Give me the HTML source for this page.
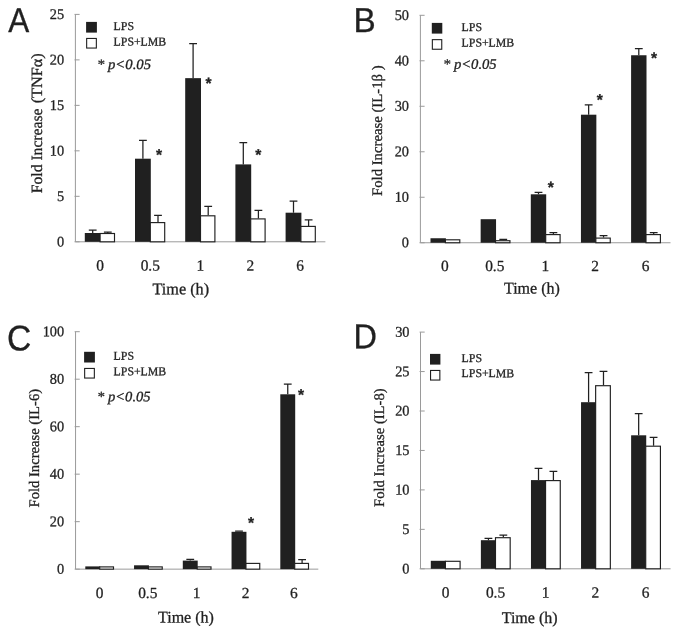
<!DOCTYPE html>
<html lang="en">
<head>
<meta charset="utf-8">
<title>Fold increase of cytokines after LPS and LPS+LMB treatment</title>
<style>
html,body{margin:0;padding:0;background:#fff;}
body{width:679px;height:635px;overflow:hidden;}
svg{display:block;filter:grayscale(1);}
text{text-rendering:geometricPrecision;stroke:#231f20;stroke-width:0.3px;stroke-linejoin:round;}
</style>
</head>
<body>
<svg width="679" height="635" viewBox="0 0 679 635">
<rect width="679" height="635" fill="#fff"/>
<path d="M75.4 14.4V241.8H325.4" fill="none" stroke="#9a9a9a" stroke-width="1"/>
<line x1="74.50" y1="14.40" x2="79.60" y2="14.40" stroke="#9a9a9a" stroke-width="1"/>
<text transform="translate(64.20 19.00) rotate(0.05) scale(0.97 1)" text-anchor="end" font-family="'Liberation Serif', serif" font-size="14.8" fill="#231f20">25</text>
<line x1="74.50" y1="59.88" x2="79.60" y2="59.88" stroke="#9a9a9a" stroke-width="1"/>
<text transform="translate(64.20 64.48) rotate(0.05) scale(0.97 1)" text-anchor="end" font-family="'Liberation Serif', serif" font-size="14.8" fill="#231f20">20</text>
<line x1="74.50" y1="105.36" x2="79.60" y2="105.36" stroke="#9a9a9a" stroke-width="1"/>
<text transform="translate(64.20 109.96) rotate(0.05) scale(0.97 1)" text-anchor="end" font-family="'Liberation Serif', serif" font-size="14.8" fill="#231f20">15</text>
<line x1="74.50" y1="150.84" x2="79.60" y2="150.84" stroke="#9a9a9a" stroke-width="1"/>
<text transform="translate(64.20 155.44) rotate(0.05) scale(0.97 1)" text-anchor="end" font-family="'Liberation Serif', serif" font-size="14.8" fill="#231f20">10</text>
<line x1="74.50" y1="196.32" x2="79.60" y2="196.32" stroke="#9a9a9a" stroke-width="1"/>
<text transform="translate(64.20 200.92) rotate(0.05) scale(0.97 1)" text-anchor="end" font-family="'Liberation Serif', serif" font-size="14.8" fill="#231f20">5</text>
<line x1="74.50" y1="241.80" x2="79.60" y2="241.80" stroke="#9a9a9a" stroke-width="1"/>
<text transform="translate(64.20 246.40) rotate(0.05) scale(0.97 1)" text-anchor="end" font-family="'Liberation Serif', serif" font-size="14.8" fill="#231f20">0</text>
<path d="M92.70 233.00V230.10M88.80 230.10H96.60" stroke="#231f20" stroke-width="1.25" fill="none"/>
<path d="M107.80 233.00V232.20M103.90 232.20H111.70" stroke="#231f20" stroke-width="1.25" fill="none"/>
<rect x="84.80" y="233.00" width="15.80" height="8.80" fill="#231f20"/>
<rect x="100.10" y="233.50" width="14.40" height="8.30" fill="#fff" stroke="#231f20" stroke-width="1.15"/>
<text transform="translate(100.00 270.50) rotate(0.05)" text-anchor="middle" font-family="'Liberation Serif', serif" font-size="15.4" fill="#231f20">0</text>
<path d="M142.90 158.70V140.40M139.00 140.40H146.80" stroke="#231f20" stroke-width="1.25" fill="none"/>
<path d="M158.00 222.10V215.30M154.10 215.30H161.90" stroke="#231f20" stroke-width="1.25" fill="none"/>
<rect x="135.00" y="158.70" width="15.80" height="83.10" fill="#231f20"/>
<rect x="150.30" y="222.60" width="14.40" height="19.20" fill="#fff" stroke="#231f20" stroke-width="1.15"/>
<text transform="translate(150.30 270.50) rotate(0.05)" text-anchor="middle" font-family="'Liberation Serif', serif" font-size="15.4" fill="#231f20">0.5</text>
<path d="M193.10 78.15V43.60M189.20 43.60H197.00" stroke="#231f20" stroke-width="1.25" fill="none"/>
<path d="M208.20 215.30V206.30M204.30 206.30H212.10" stroke="#231f20" stroke-width="1.25" fill="none"/>
<rect x="185.20" y="78.15" width="15.80" height="163.65" fill="#231f20"/>
<rect x="200.50" y="215.80" width="14.40" height="26.00" fill="#fff" stroke="#231f20" stroke-width="1.15"/>
<text transform="translate(200.30 270.50) rotate(0.05)" text-anchor="middle" font-family="'Liberation Serif', serif" font-size="15.4" fill="#231f20">1</text>
<path d="M243.30 164.40V142.50M239.40 142.50H247.20" stroke="#231f20" stroke-width="1.25" fill="none"/>
<path d="M258.40 218.40V210.30M254.50 210.30H262.30" stroke="#231f20" stroke-width="1.25" fill="none"/>
<rect x="235.40" y="164.40" width="15.80" height="77.40" fill="#231f20"/>
<rect x="250.70" y="218.90" width="14.40" height="22.90" fill="#fff" stroke="#231f20" stroke-width="1.15"/>
<text transform="translate(250.30 270.50) rotate(0.05)" text-anchor="middle" font-family="'Liberation Serif', serif" font-size="15.4" fill="#231f20">2</text>
<path d="M293.50 212.70V201.20M289.60 201.20H297.40" stroke="#231f20" stroke-width="1.25" fill="none"/>
<path d="M308.60 225.90V219.80M304.70 219.80H312.50" stroke="#231f20" stroke-width="1.25" fill="none"/>
<rect x="285.60" y="212.70" width="15.80" height="29.10" fill="#231f20"/>
<rect x="300.90" y="226.40" width="14.40" height="15.40" fill="#fff" stroke="#231f20" stroke-width="1.15"/>
<text transform="translate(300.00 270.50) rotate(0.05)" text-anchor="middle" font-family="'Liberation Serif', serif" font-size="15.4" fill="#231f20">6</text>
<text transform="translate(152.50 294.30) rotate(0.05)" font-family="'Liberation Serif', serif" font-size="16.3" textLength="56.6" lengthAdjust="spacingAndGlyphs" fill="#231f20">Time (h)</text>
<text transform="translate(41.6 193.2) rotate(-90)" font-family="'Liberation Serif', serif" font-size="15.7" textLength="84.7" lengthAdjust="spacingAndGlyphs" fill="#231f20">Fold Increase</text>
<text transform="translate(41.6 103.3) rotate(-90)" font-family="'Liberation Serif', serif" font-size="15.7" textLength="50.1" lengthAdjust="spacingAndGlyphs" fill="#231f20">(TNFα)</text>
<rect x="86.1" y="21.9" width="10.8" height="10.7" fill="#231f20"/>
<rect x="86.65" y="38.45" width="9.70" height="9.6" fill="#fff" stroke="#231f20" stroke-width="1.1"/>
<text transform="translate(113.60 29.90) rotate(0.05)" font-family="'Liberation Serif', serif" font-size="12" textLength="20.4" lengthAdjust="spacingAndGlyphs" fill="#231f20">LPS</text>
<text transform="translate(113.60 45.40) rotate(0.05)" font-family="'Liberation Serif', serif" font-size="12" textLength="52.6" lengthAdjust="spacingAndGlyphs" fill="#231f20">LPS+LMB</text>
<text transform="translate(97.00 68.90) rotate(0.05)" font-family="'Liberation Serif', serif" font-size="14.4" font-style="italic" textLength="54" lengthAdjust="spacingAndGlyphs" fill="#231f20">* p&lt;0.05</text>
<text transform="translate(159.10 159.90) rotate(0.05)" text-anchor="middle" font-family="'Liberation Sans', sans-serif" font-size="15.6" font-weight="bold" stroke-width="0.15" fill="#231f20">*</text>
<text transform="translate(208.50 88.60) rotate(0.05)" text-anchor="middle" font-family="'Liberation Sans', sans-serif" font-size="15.6" font-weight="bold" stroke-width="0.15" fill="#231f20">*</text>
<text transform="translate(258.20 159.90) rotate(0.05)" text-anchor="middle" font-family="'Liberation Sans', sans-serif" font-size="15.6" font-weight="bold" stroke-width="0.15" fill="#231f20">*</text>
<text transform="translate(8.3 32.1) rotate(0.05) scale(1 1.095)" font-family="'Liberation Sans', sans-serif" font-size="31.5" fill="#231f20">A</text>
<path d="M420.4 15.3V242.75H670.5" fill="none" stroke="#9a9a9a" stroke-width="1"/>
<line x1="419.50" y1="15.30" x2="424.60" y2="15.30" stroke="#9a9a9a" stroke-width="1"/>
<text transform="translate(409.00 19.90) rotate(0.05) scale(0.97 1)" text-anchor="end" font-family="'Liberation Serif', serif" font-size="14.8" fill="#231f20">50</text>
<line x1="419.50" y1="60.79" x2="424.60" y2="60.79" stroke="#9a9a9a" stroke-width="1"/>
<text transform="translate(409.00 65.39) rotate(0.05) scale(0.97 1)" text-anchor="end" font-family="'Liberation Serif', serif" font-size="14.8" fill="#231f20">40</text>
<line x1="419.50" y1="106.28" x2="424.60" y2="106.28" stroke="#9a9a9a" stroke-width="1"/>
<text transform="translate(409.00 110.88) rotate(0.05) scale(0.97 1)" text-anchor="end" font-family="'Liberation Serif', serif" font-size="14.8" fill="#231f20">30</text>
<line x1="419.50" y1="151.77" x2="424.60" y2="151.77" stroke="#9a9a9a" stroke-width="1"/>
<text transform="translate(409.00 156.37) rotate(0.05) scale(0.97 1)" text-anchor="end" font-family="'Liberation Serif', serif" font-size="14.8" fill="#231f20">20</text>
<line x1="419.50" y1="197.26" x2="424.60" y2="197.26" stroke="#9a9a9a" stroke-width="1"/>
<text transform="translate(409.00 201.86) rotate(0.05) scale(0.97 1)" text-anchor="end" font-family="'Liberation Serif', serif" font-size="14.8" fill="#231f20">10</text>
<line x1="419.50" y1="242.75" x2="424.60" y2="242.75" stroke="#9a9a9a" stroke-width="1"/>
<text transform="translate(409.00 247.35) rotate(0.05) scale(0.97 1)" text-anchor="end" font-family="'Liberation Serif', serif" font-size="14.8" fill="#231f20">0</text>
<rect x="430.50" y="238.25" width="15.40" height="4.50" fill="#231f20"/>
<rect x="445.40" y="239.80" width="14.40" height="2.95" fill="#fff" stroke="#231f20" stroke-width="1.15"/>
<text transform="translate(444.90 270.90) rotate(0.05)" text-anchor="middle" font-family="'Liberation Serif', serif" font-size="15.4" fill="#231f20">0</text>
<path d="M503.25 240.20V239.40M499.35 239.40H507.15" stroke="#231f20" stroke-width="1.25" fill="none"/>
<rect x="480.65" y="219.20" width="15.40" height="23.55" fill="#231f20"/>
<rect x="495.55" y="240.70" width="14.40" height="2.05" fill="#fff" stroke="#231f20" stroke-width="1.15"/>
<text transform="translate(494.80 270.90) rotate(0.05)" text-anchor="middle" font-family="'Liberation Serif', serif" font-size="15.4" fill="#231f20">0.5</text>
<path d="M538.50 194.30V192.40M534.60 192.40H542.40" stroke="#231f20" stroke-width="1.25" fill="none"/>
<path d="M553.40 234.10V232.70M549.50 232.70H557.30" stroke="#231f20" stroke-width="1.25" fill="none"/>
<rect x="530.80" y="194.30" width="15.40" height="48.45" fill="#231f20"/>
<rect x="545.70" y="234.60" width="14.40" height="8.15" fill="#fff" stroke="#231f20" stroke-width="1.15"/>
<text transform="translate(545.30 270.90) rotate(0.05)" text-anchor="middle" font-family="'Liberation Serif', serif" font-size="15.4" fill="#231f20">1</text>
<path d="M588.65 114.70V104.90M584.75 104.90H592.55" stroke="#231f20" stroke-width="1.25" fill="none"/>
<path d="M603.55 237.60V235.50M599.65 235.50H607.45" stroke="#231f20" stroke-width="1.25" fill="none"/>
<rect x="580.95" y="114.70" width="15.40" height="128.05" fill="#231f20"/>
<rect x="595.85" y="238.10" width="14.40" height="4.65" fill="#fff" stroke="#231f20" stroke-width="1.15"/>
<text transform="translate(595.10 270.90) rotate(0.05)" text-anchor="middle" font-family="'Liberation Serif', serif" font-size="15.4" fill="#231f20">2</text>
<path d="M638.80 55.25V48.70M634.90 48.70H642.70" stroke="#231f20" stroke-width="1.25" fill="none"/>
<path d="M653.70 234.10V232.70M649.80 232.70H657.60" stroke="#231f20" stroke-width="1.25" fill="none"/>
<rect x="631.10" y="55.25" width="15.40" height="187.50" fill="#231f20"/>
<rect x="646.00" y="234.60" width="14.40" height="8.15" fill="#fff" stroke="#231f20" stroke-width="1.15"/>
<text transform="translate(645.50 270.90) rotate(0.05)" text-anchor="middle" font-family="'Liberation Serif', serif" font-size="15.4" fill="#231f20">6</text>
<text transform="translate(503.90 293.45) rotate(0.05)" font-family="'Liberation Serif', serif" font-size="16.3" textLength="56.0" lengthAdjust="spacingAndGlyphs" fill="#231f20">Time (h)</text>
<text transform="translate(381.8 196.0) rotate(-90)" font-family="'Liberation Serif', serif" font-size="14.6" textLength="130.6" lengthAdjust="spacingAndGlyphs" fill="#231f20">Fold Increase (IL-1β )</text>
<rect x="431.8" y="22.9" width="10.5" height="10.7" fill="#231f20"/>
<rect x="432.35" y="39.65" width="9.40" height="9.6" fill="#fff" stroke="#231f20" stroke-width="1.1"/>
<text transform="translate(461.60 31.00) rotate(0.05)" font-family="'Liberation Serif', serif" font-size="12" textLength="20.4" lengthAdjust="spacingAndGlyphs" fill="#231f20">LPS</text>
<text transform="translate(461.60 46.40) rotate(0.05)" font-family="'Liberation Serif', serif" font-size="12" textLength="52.6" lengthAdjust="spacingAndGlyphs" fill="#231f20">LPS+LMB</text>
<text transform="translate(442.90 68.80) rotate(0.05)" font-family="'Liberation Serif', serif" font-size="14.4" font-style="italic" textLength="53.8" lengthAdjust="spacingAndGlyphs" fill="#231f20">* p&lt;0.05</text>
<text transform="translate(550.90 192.60) rotate(0.05)" text-anchor="middle" font-family="'Liberation Sans', sans-serif" font-size="15.6" font-weight="bold" stroke-width="0.15" fill="#231f20">*</text>
<text transform="translate(599.70 104.90) rotate(0.05)" text-anchor="middle" font-family="'Liberation Sans', sans-serif" font-size="15.6" font-weight="bold" stroke-width="0.15" fill="#231f20">*</text>
<text transform="translate(654.10 63.20) rotate(0.05)" text-anchor="middle" font-family="'Liberation Sans', sans-serif" font-size="15.6" font-weight="bold" stroke-width="0.15" fill="#231f20">*</text>
<text transform="translate(353.6 31.9) rotate(0.05) scale(1.058 1.095)" font-family="'Liberation Sans', sans-serif" font-size="31.5" fill="#231f20">B</text>
<path d="M75.55 331.7V569.15H318.3" fill="none" stroke="#9a9a9a" stroke-width="1"/>
<line x1="74.65" y1="331.70" x2="79.75" y2="331.70" stroke="#9a9a9a" stroke-width="1"/>
<text transform="translate(64.20 336.30) rotate(0.05) scale(0.97 1)" text-anchor="end" font-family="'Liberation Serif', serif" font-size="14.8" fill="#231f20">100</text>
<line x1="74.65" y1="379.19" x2="79.75" y2="379.19" stroke="#9a9a9a" stroke-width="1"/>
<text transform="translate(64.20 383.79) rotate(0.05) scale(0.97 1)" text-anchor="end" font-family="'Liberation Serif', serif" font-size="14.8" fill="#231f20">80</text>
<line x1="74.65" y1="426.68" x2="79.75" y2="426.68" stroke="#9a9a9a" stroke-width="1"/>
<text transform="translate(64.20 431.28) rotate(0.05) scale(0.97 1)" text-anchor="end" font-family="'Liberation Serif', serif" font-size="14.8" fill="#231f20">60</text>
<line x1="74.65" y1="474.17" x2="79.75" y2="474.17" stroke="#9a9a9a" stroke-width="1"/>
<text transform="translate(64.20 478.77) rotate(0.05) scale(0.97 1)" text-anchor="end" font-family="'Liberation Serif', serif" font-size="14.8" fill="#231f20">40</text>
<line x1="74.65" y1="521.66" x2="79.75" y2="521.66" stroke="#9a9a9a" stroke-width="1"/>
<text transform="translate(64.20 526.26) rotate(0.05) scale(0.97 1)" text-anchor="end" font-family="'Liberation Serif', serif" font-size="14.8" fill="#231f20">20</text>
<line x1="74.65" y1="569.15" x2="79.75" y2="569.15" stroke="#9a9a9a" stroke-width="1"/>
<text transform="translate(64.20 573.75) rotate(0.05) scale(0.97 1)" text-anchor="end" font-family="'Liberation Serif', serif" font-size="14.8" fill="#231f20">0</text>
<rect x="85.30" y="566.40" width="14.90" height="2.75" fill="#231f20"/>
<rect x="99.70" y="566.90" width="13.80" height="2.25" fill="#fff" stroke="#231f20" stroke-width="1.15"/>
<text transform="translate(99.50 598.00) rotate(0.05)" text-anchor="middle" font-family="'Liberation Serif', serif" font-size="15.4" fill="#231f20">0</text>
<rect x="134.05" y="565.30" width="14.90" height="3.85" fill="#231f20"/>
<rect x="148.45" y="566.90" width="13.80" height="2.25" fill="#fff" stroke="#231f20" stroke-width="1.15"/>
<text transform="translate(147.80 598.00) rotate(0.05)" text-anchor="middle" font-family="'Liberation Serif', serif" font-size="15.4" fill="#231f20">0.5</text>
<path d="M190.25 560.60V559.40M186.35 559.40H194.15" stroke="#231f20" stroke-width="1.25" fill="none"/>
<rect x="182.80" y="560.60" width="14.90" height="8.55" fill="#231f20"/>
<rect x="197.20" y="566.90" width="13.80" height="2.25" fill="#fff" stroke="#231f20" stroke-width="1.15"/>
<text transform="translate(196.60 598.00) rotate(0.05)" text-anchor="middle" font-family="'Liberation Serif', serif" font-size="15.4" fill="#231f20">1</text>
<path d="M239.00 531.80V531.00M235.10 531.00H242.90" stroke="#231f20" stroke-width="1.25" fill="none"/>
<rect x="231.55" y="531.80" width="14.90" height="37.35" fill="#231f20"/>
<rect x="245.95" y="563.40" width="13.80" height="5.75" fill="#fff" stroke="#231f20" stroke-width="1.15"/>
<text transform="translate(245.50 598.00) rotate(0.05)" text-anchor="middle" font-family="'Liberation Serif', serif" font-size="15.4" fill="#231f20">2</text>
<path d="M287.75 394.30V384.10M283.85 384.10H291.65" stroke="#231f20" stroke-width="1.25" fill="none"/>
<path d="M302.10 562.90V559.60M298.20 559.60H306.00" stroke="#231f20" stroke-width="1.25" fill="none"/>
<rect x="280.30" y="394.30" width="14.90" height="174.85" fill="#231f20"/>
<rect x="294.70" y="563.40" width="13.80" height="5.75" fill="#fff" stroke="#231f20" stroke-width="1.15"/>
<text transform="translate(293.80 598.00) rotate(0.05)" text-anchor="middle" font-family="'Liberation Serif', serif" font-size="15.4" fill="#231f20">6</text>
<text transform="translate(157.95 622.40) rotate(0.05)" font-family="'Liberation Serif', serif" font-size="16.3" textLength="56.0" lengthAdjust="spacingAndGlyphs" fill="#231f20">Time (h)</text>
<text transform="translate(38.8 507.5) rotate(-90)" font-family="'Liberation Serif', serif" font-size="14.6" textLength="118.6" lengthAdjust="spacingAndGlyphs" fill="#231f20">Fold Increase (IL-6)</text>
<rect x="84.1" y="351.8" width="10.8" height="10.7" fill="#231f20"/>
<rect x="84.65" y="368.45" width="9.70" height="9.6" fill="#fff" stroke="#231f20" stroke-width="1.1"/>
<text transform="translate(113.60 359.70) rotate(0.05)" font-family="'Liberation Serif', serif" font-size="12" textLength="20.4" lengthAdjust="spacingAndGlyphs" fill="#231f20">LPS</text>
<text transform="translate(113.60 375.30) rotate(0.05)" font-family="'Liberation Serif', serif" font-size="12" textLength="52.6" lengthAdjust="spacingAndGlyphs" fill="#231f20">LPS+LMB</text>
<text transform="translate(97.10 401.20) rotate(0.05)" font-family="'Liberation Serif', serif" font-size="14.4" font-style="italic" textLength="53.5" lengthAdjust="spacingAndGlyphs" fill="#231f20">* p&lt;0.05</text>
<text transform="translate(251.00 527.90) rotate(0.05)" text-anchor="middle" font-family="'Liberation Sans', sans-serif" font-size="15.6" font-weight="bold" stroke-width="0.15" fill="#231f20">*</text>
<text transform="translate(300.95 399.90) rotate(0.05)" text-anchor="middle" font-family="'Liberation Sans', sans-serif" font-size="15.6" font-weight="bold" stroke-width="0.15" fill="#231f20">*</text>
<text transform="translate(7.1 350.45) rotate(0.05) scale(1.065 1.14)" font-family="'Liberation Sans', sans-serif" font-size="31.5" fill="#231f20">C</text>
<path d="M420.5 332.1V568.8H670.6" fill="none" stroke="#9a9a9a" stroke-width="1"/>
<line x1="419.60" y1="332.10" x2="424.70" y2="332.10" stroke="#9a9a9a" stroke-width="1"/>
<text transform="translate(409.50 336.70) rotate(0.05) scale(0.97 1)" text-anchor="end" font-family="'Liberation Serif', serif" font-size="14.8" fill="#231f20">30</text>
<line x1="419.60" y1="371.55" x2="424.70" y2="371.55" stroke="#9a9a9a" stroke-width="1"/>
<text transform="translate(409.50 376.15) rotate(0.05) scale(0.97 1)" text-anchor="end" font-family="'Liberation Serif', serif" font-size="14.8" fill="#231f20">25</text>
<line x1="419.60" y1="411.00" x2="424.70" y2="411.00" stroke="#9a9a9a" stroke-width="1"/>
<text transform="translate(409.50 415.60) rotate(0.05) scale(0.97 1)" text-anchor="end" font-family="'Liberation Serif', serif" font-size="14.8" fill="#231f20">20</text>
<line x1="419.60" y1="450.45" x2="424.70" y2="450.45" stroke="#9a9a9a" stroke-width="1"/>
<text transform="translate(409.50 455.05) rotate(0.05) scale(0.97 1)" text-anchor="end" font-family="'Liberation Serif', serif" font-size="14.8" fill="#231f20">15</text>
<line x1="419.60" y1="489.90" x2="424.70" y2="489.90" stroke="#9a9a9a" stroke-width="1"/>
<text transform="translate(409.50 494.50) rotate(0.05) scale(0.97 1)" text-anchor="end" font-family="'Liberation Serif', serif" font-size="14.8" fill="#231f20">10</text>
<line x1="419.60" y1="529.35" x2="424.70" y2="529.35" stroke="#9a9a9a" stroke-width="1"/>
<text transform="translate(409.50 533.95) rotate(0.05) scale(0.97 1)" text-anchor="end" font-family="'Liberation Serif', serif" font-size="14.8" fill="#231f20">5</text>
<line x1="419.60" y1="568.80" x2="424.70" y2="568.80" stroke="#9a9a9a" stroke-width="1"/>
<text transform="translate(409.50 573.40) rotate(0.05) scale(0.97 1)" text-anchor="end" font-family="'Liberation Serif', serif" font-size="14.8" fill="#231f20">0</text>
<rect x="430.80" y="560.80" width="15.10" height="8.00" fill="#231f20"/>
<rect x="445.40" y="561.30" width="14.70" height="7.50" fill="#fff" stroke="#231f20" stroke-width="1.15"/>
<text transform="translate(445.60 597.50) rotate(0.05)" text-anchor="middle" font-family="'Liberation Serif', serif" font-size="15.4" fill="#231f20">0</text>
<path d="M488.43 540.20V538.40M484.53 538.40H492.33" stroke="#231f20" stroke-width="1.25" fill="none"/>
<path d="M503.33 537.20V535.10M499.43 535.10H507.23" stroke="#231f20" stroke-width="1.25" fill="none"/>
<rect x="480.88" y="540.20" width="15.10" height="28.60" fill="#231f20"/>
<rect x="495.48" y="537.70" width="14.70" height="31.10" fill="#fff" stroke="#231f20" stroke-width="1.15"/>
<text transform="translate(495.50 597.50) rotate(0.05)" text-anchor="middle" font-family="'Liberation Serif', serif" font-size="15.4" fill="#231f20">0.5</text>
<path d="M538.51 480.10V468.40M534.61 468.40H542.41" stroke="#231f20" stroke-width="1.25" fill="none"/>
<path d="M553.41 480.10V471.40M549.51 471.40H557.31" stroke="#231f20" stroke-width="1.25" fill="none"/>
<rect x="530.96" y="480.10" width="15.10" height="88.70" fill="#231f20"/>
<rect x="545.56" y="480.60" width="14.70" height="88.20" fill="#fff" stroke="#231f20" stroke-width="1.15"/>
<text transform="translate(545.50 597.50) rotate(0.05)" text-anchor="middle" font-family="'Liberation Serif', serif" font-size="15.4" fill="#231f20">1</text>
<path d="M588.59 402.20V372.70M584.69 372.70H592.49" stroke="#231f20" stroke-width="1.25" fill="none"/>
<path d="M603.49 385.20V371.30M599.59 371.30H607.39" stroke="#231f20" stroke-width="1.25" fill="none"/>
<rect x="581.04" y="402.20" width="15.10" height="166.60" fill="#231f20"/>
<rect x="595.64" y="385.70" width="14.70" height="183.10" fill="#fff" stroke="#231f20" stroke-width="1.15"/>
<text transform="translate(595.40 597.50) rotate(0.05)" text-anchor="middle" font-family="'Liberation Serif', serif" font-size="15.4" fill="#231f20">2</text>
<path d="M638.67 435.30V413.50M634.77 413.50H642.57" stroke="#231f20" stroke-width="1.25" fill="none"/>
<path d="M653.57 445.70V437.30M649.67 437.30H657.47" stroke="#231f20" stroke-width="1.25" fill="none"/>
<rect x="631.12" y="435.30" width="15.10" height="133.50" fill="#231f20"/>
<rect x="645.72" y="446.20" width="14.70" height="122.60" fill="#fff" stroke="#231f20" stroke-width="1.15"/>
<text transform="translate(645.50 597.50) rotate(0.05)" text-anchor="middle" font-family="'Liberation Serif', serif" font-size="15.4" fill="#231f20">6</text>
<text transform="translate(501.65 623.00) rotate(0.05)" font-family="'Liberation Serif', serif" font-size="16.3" textLength="56.0" lengthAdjust="spacingAndGlyphs" fill="#231f20">Time (h)</text>
<text transform="translate(383.8 506.9) rotate(-90)" font-family="'Liberation Serif', serif" font-size="14.6" textLength="118.5" lengthAdjust="spacingAndGlyphs" fill="#231f20">Fold Increase (IL-8)</text>
<rect x="430.0" y="353.9" width="10.4" height="10.7" fill="#231f20"/>
<rect x="430.55" y="370.45" width="9.30" height="9.6" fill="#fff" stroke="#231f20" stroke-width="1.1"/>
<text transform="translate(461.60 362.00) rotate(0.05)" font-family="'Liberation Serif', serif" font-size="12" textLength="20.4" lengthAdjust="spacingAndGlyphs" fill="#231f20">LPS</text>
<text transform="translate(461.60 377.10) rotate(0.05)" font-family="'Liberation Serif', serif" font-size="12" textLength="52.6" lengthAdjust="spacingAndGlyphs" fill="#231f20">LPS+LMB</text>
<text transform="translate(353.6 348.3) rotate(0.05) scale(1.03 1.095)" font-family="'Liberation Sans', sans-serif" font-size="31.5" fill="#231f20">D</text>
</svg>
</body>
</html>
